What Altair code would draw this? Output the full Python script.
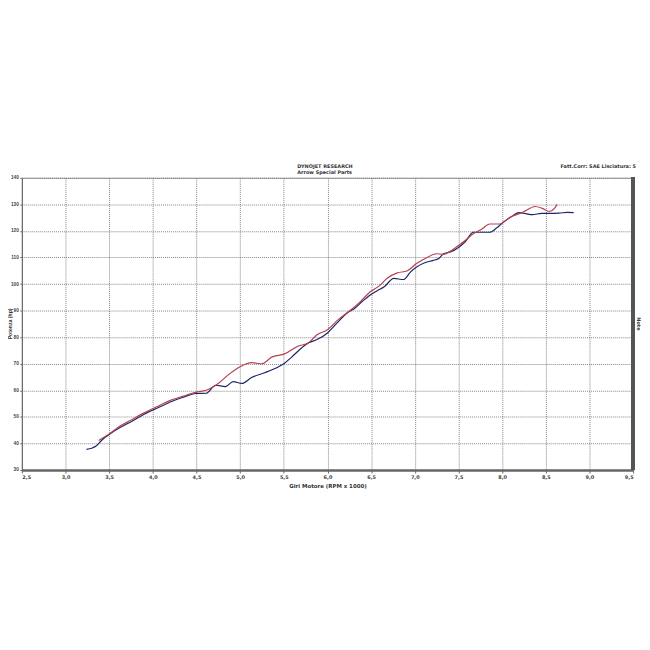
import altair as alt
import pandas as pd

# Blue run (dark navy)
blue_rpm = [3.24, 3.30, 3.35, 3.43, 3.50, 3.60, 3.74, 3.90, 4.07, 4.20, 4.35, 4.49, 4.61, 4.72, 4.83,
            4.92, 5.02, 5.13, 5.28, 5.43, 5.50, 5.59, 5.67, 5.78, 5.88, 6.00, 6.10, 6.22, 6.31, 6.40,
            6.49, 6.57, 6.65, 6.76, 6.87, 6.95, 7.02, 7.10, 7.21, 7.27, 7.33, 7.40, 7.48, 7.58, 7.67,
            7.76, 7.86, 7.94, 8.01, 8.10, 8.19, 8.27, 8.35, 8.45, 8.53, 8.65, 8.75, 8.82]
blue_hp = [37.8, 38.2, 39.0, 41.7, 43.4, 45.5, 48.0, 51.0, 53.6, 55.6, 57.4, 58.8, 58.9, 61.9, 61.4,
           63.3, 62.6, 64.8, 66.6, 68.7, 70.0, 72.5, 75.0, 77.8, 79.1, 81.6, 85.0, 89.0, 90.8, 93.5,
           95.9, 97.5, 99.0, 102.1, 101.7, 104.5, 106.4, 107.8, 108.9, 109.5, 111.4, 112.0, 113.3, 116.0, 119.5,
           119.5, 119.5, 121.2, 123.2, 125.2, 126.9, 126.5, 126.1, 126.6, 126.6, 126.7, 127.0, 126.9]

# Red run
red_rpm = [3.38, 3.50, 3.60, 3.74, 3.90, 4.07, 4.20, 4.35, 4.49, 4.64, 4.75, 4.87, 5.00, 5.13, 5.25,
           5.36, 5.51, 5.66, 5.78, 5.88, 6.00, 6.12, 6.27, 6.38, 6.49, 6.60, 6.68, 6.80, 6.91, 7.02,
           7.13, 7.25, 7.33, 7.40, 7.48, 7.58, 7.67, 7.76, 7.86, 7.97, 8.09, 8.23, 8.38, 8.46, 8.54,
           8.60, 8.63]
red_hp = [41.1, 43.6, 46.0, 48.6, 51.5, 54.2, 56.2, 57.8, 59.2, 60.4, 62.6, 66.0, 68.9, 70.4, 70.0,
          72.5, 73.7, 76.6, 77.8, 80.9, 82.8, 86.5, 90.3, 93.5, 97.1, 99.5, 102.1, 104.2, 104.9, 107.7,
          109.8, 111.4, 111.2, 112.2, 114.0, 116.5, 118.9, 120.5, 122.6, 122.6, 125.1, 126.9, 129.2, 128.5, 127.3,
          128.5, 130.0]

x_ticks = [2.5, 3.0, 3.5, 4.0, 4.5, 5.0, 5.5, 6.0, 6.5, 7.0, 7.5, 8.0, 8.5, 9.0, 9.5]
y_ticks = [30, 40, 50, 60, 70, 80, 90, 100, 110, 120, 130, 140]

df = pd.concat([
    pd.DataFrame({"rpm": blue_rpm, "hp": blue_hp, "run": "A", "order": range(len(blue_rpm))}),
    pd.DataFrame({"rpm": red_rpm, "hp": red_hp, "run": "B", "order": range(len(red_rpm))}),
])

PW, PH = 617, 295
FONT = "DejaVu Sans"
FONT2 = "Liberation Sans"

x_scale = alt.Scale(domain=[2.5, 9.5], nice=False, zero=False)
y_scale = alt.Scale(domain=[30, 140], nice=False, zero=False)

lines = alt.Chart(df).mark_line(strokeWidth=1.2, interpolate="monotone").encode(
    x=alt.X("rpm:Q", scale=x_scale,
            axis=alt.Axis(values=x_ticks, title="Giri Motore (RPM x 1000)",
                          labelExpr="replace(format(datum.value, '.1f'), '.', ',')",
                          grid=True, gridDash=[1, 1], gridColor="#777", gridOpacity=0.9,
                          domainColor="#666", domainWidth=2.5, tickColor="#666", tickSize=3,
                          labelFontSize=5, labelFont=FONT, labelColor="#444", labelFontWeight="bold",
                          labelPadding=2, titleFontSize=5.5, titleFont=FONT, titleColor="#333",
                          titleFontWeight="bold", titlePadding=4)),
    y=alt.Y("hp:Q", scale=y_scale,
            axis=alt.Axis(values=y_ticks, title=None,
                          grid=True, gridDash=[1, 1], gridColor="#777", gridOpacity=0.9,
                          domainColor="#666", domainWidth=1, tickColor="#666", tickSize=2,
                          labelFontSize=4.8, labelFont=FONT2, labelColor="#444", labelFontWeight="bold",
                          labelPadding=1.5)),
    color=alt.Color("run:N", scale=alt.Scale(domain=["A", "B"], range=["#1e2566", "#b5404f"]), legend=None),
    order="order:Q",
)

right_edge = alt.Chart(df).mark_rule(color="#555", strokeWidth=2.5).encode(
    x=alt.value(PW), y=alt.value(0), y2=alt.value(PH))

def label(txt, x, y, size=5, anchor="left", angle=0, font=FONT):
    return alt.Chart(pd.DataFrame({"t": [txt]})).mark_text(
        align=anchor, baseline="middle", fontSize=size, font=font, fontWeight="bold",
        color="#333", angle=angle).encode(x=alt.value(x), y=alt.value(y), text="t:N")

texts = [
    label("DYNOJET RESEARCH", 278, -12),
    label("Arrow Special Parts", 278, -6),
    label("Fatt.Corr: SAE  Lisciatura: 5", PW + 3, -12, anchor="right"),
    label("Note", PW + 6, PH / 2, anchor="center", angle=90),
    label("Potenza (hp)", -12, PH / 2, size=5.2, anchor="center", angle=270, font=FONT2),
]

chart = alt.layer(lines, right_edge, *texts).properties(
    width=PW, height=PH,
    autosize=alt.AutoSizeParams(type="none"),
    padding={"left": 14, "top": 169, "right": 9, "bottom": 40},
    background="white",
).configure_view(stroke="#999", strokeWidth=1)

chart.save("out.html", embed_options={"renderer": "svg", "actions": False})
